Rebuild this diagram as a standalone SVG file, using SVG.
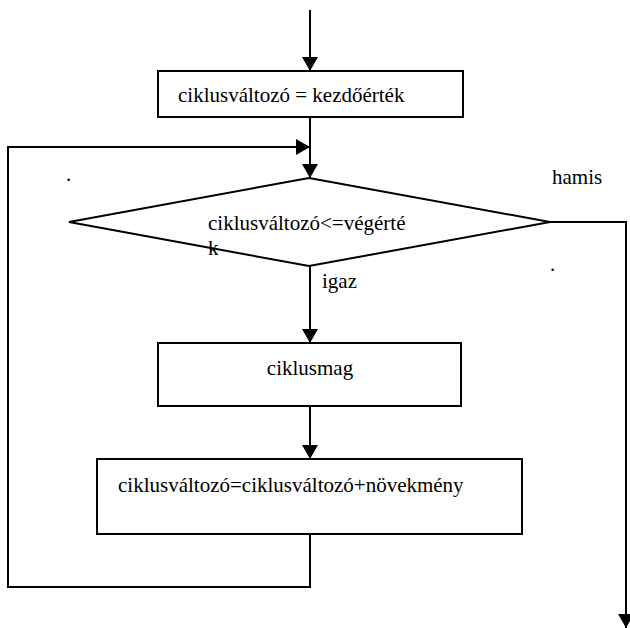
<svg xmlns="http://www.w3.org/2000/svg" width="630" height="628" viewBox="0 0 630 628">
  <style>
    .shape { fill: #ffffff; stroke: #000000; stroke-width: 2; }
    .wire { fill: none; stroke: #000000; stroke-width: 2; }
    .label { font-family: "Liberation Serif", "Times New Roman", serif; font-size: 21px; fill: #000000; }
  </style>
  <defs>
    <marker id="arrow" viewBox="0 0 14 16" refX="14" refY="8" markerWidth="14" markerHeight="16" markerUnits="userSpaceOnUse" orient="auto">
      <path d="M0,0 L14,8 L0,16 Z" fill="#000000"/>
    </marker>
  </defs>

  <!-- connectors -->
  <g id="connectors">
    <line class="wire" x1="310" y1="10" x2="310" y2="71" marker-end="url(#arrow)"/>
    <line class="wire" x1="310" y1="117" x2="310" y2="178" marker-end="url(#arrow)"/>
    <line class="wire" x1="310" y1="266" x2="310" y2="343" marker-end="url(#arrow)"/>
    <line class="wire" x1="310" y1="406" x2="310" y2="459" marker-end="url(#arrow)"/>
    <polyline class="wire" points="310,534 310,587 8,587 8,147 310,147" marker-end="url(#arrow)"/>
    <polyline class="wire" points="550,222 626,222 626,628" marker-end="url(#arrow)"/>
  </g>

  <!-- initialisation -->
  <g id="init">
    <rect class="shape" x="158" y="71" width="305" height="46"/>
    <text class="label" x="178" y="102" font-size="20">ciklusváltozó = kezdőérték</text>
  </g>

  <!-- loop condition -->
  <g id="condition">
    <polygon class="shape" points="309,178 550,222 309,266 69,222"/>
    <text class="label" x="208" y="230">ciklusváltozó&lt;=végérté</text>
    <text class="label" x="208" y="255">k</text>
  </g>

  <!-- loop body -->
  <g id="body">
    <rect class="shape" x="158" y="343" width="303" height="63"/>
    <text class="label" x="310" y="375" text-anchor="middle">ciklusmag</text>
  </g>

  <!-- increment -->
  <g id="increment">
    <rect class="shape" x="97" y="459" width="425" height="75"/>
    <text class="label" x="118" y="492">ciklusváltozó=ciklusváltozó+növekmény</text>
  </g>

  <!-- branch labels and stray marks -->
  <g id="labels">
    <text class="label" x="552" y="184" font-size="20">hamis</text>
    <text class="label" x="322" y="288">igaz</text>
    <text class="label" x="66" y="181">.</text>
    <text class="label" x="550" y="271">.</text>
  </g>
</svg>
